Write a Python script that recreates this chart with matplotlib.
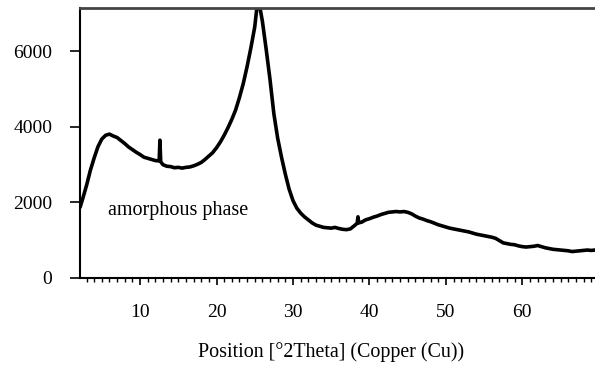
import matplotlib.pyplot as plt
from matplotlib.ticker import MultipleLocator

two_theta = [2.2, 2.5, 3.0, 3.5, 4.0, 4.5, 5.0, 5.5, 6.0, 6.5, 7.0, 7.5, 8.0, 8.5,
             9.0, 9.5, 10.0, 10.5, 11.0, 11.5, 12.0, 12.5, 12.6, 12.7, 13.0, 13.5,
             14.0, 14.5, 15.0, 15.5, 16.0, 16.5, 17.0, 17.5, 18.0, 18.5, 19.0, 19.5,
             20.0, 20.5, 21.0, 21.5, 22.0, 22.5, 23.0, 23.5, 24.0, 24.5, 25.0, 25.3,
             25.6, 26.0, 26.5, 27.0, 27.5, 28.0, 28.5, 29.0, 29.5, 30.0, 30.5, 31.0,
             31.5, 32.0, 32.5, 33.0, 33.5, 34.0, 34.5, 35.0, 35.5, 36.0, 36.5, 37.0,
             37.5, 38.0, 38.4, 38.5, 38.6, 39.0, 39.5, 40.0, 40.5, 41.0, 41.5, 42.0,
             42.5, 43.0, 43.5, 44.0, 44.5, 45.0, 45.5, 46.0, 46.5, 47.0, 47.5, 48.0,
             48.5, 49.0, 49.5, 50.0, 50.5, 51.0, 51.5, 52.0, 52.5, 53.0, 53.5, 54.0,
             54.5, 55.0, 55.5, 56.0, 56.5, 57.0, 57.5, 58.0, 58.5, 59.0, 59.5, 60.0,
             60.5, 61.0, 61.5, 62.0, 62.5, 63.0, 63.5, 64.0, 64.5, 65.0, 65.5, 66.0,
             66.5, 67.0, 67.5, 68.0, 68.5, 69.0, 69.5]
counts = [1900, 2100, 2450, 2850, 3180, 3480, 3680, 3780, 3810, 3760, 3720, 3640, 3560, 3470,
          3400, 3330, 3270, 3200, 3170, 3140, 3110, 3100, 3650, 3080, 3000, 2960,
          2950, 2920, 2930, 2910, 2930, 2940, 2970, 3010, 3060, 3140, 3230, 3320,
          3450, 3600, 3780, 3980, 4200, 4450, 4780, 5150, 5600, 6100, 6650, 7200,
          7250, 6800, 6050, 5250, 4350, 3700, 3200, 2750, 2350, 2050, 1850, 1720,
          1620, 1540, 1460, 1400, 1370, 1340, 1330, 1320, 1340, 1310, 1290, 1280,
          1300, 1380, 1450, 1620, 1460, 1480, 1540, 1570, 1610, 1640, 1680, 1710,
          1740, 1750, 1760, 1750, 1760, 1740, 1700, 1640, 1590, 1560, 1520, 1490,
          1450, 1410, 1380, 1350, 1320, 1300, 1280, 1260, 1240, 1220, 1190, 1160,
          1140, 1120, 1100, 1080, 1050, 990, 930, 910, 890, 880, 850, 830,
          820, 830, 840, 860, 830, 800, 780, 760, 750, 740, 730, 720,
          700, 710, 720, 730, 740, 730, 740]

plt.rcParams['font.family'] = ['Liberation Serif', 'DejaVu Serif']

fig = plt.figure(figsize=(5.95, 3.68), dpi=100)
ax = fig.add_axes([0.1345, 0.2446, 0.8655, 0.7336])
ax.plot(two_theta, counts, color='black', linewidth=2.6)

ax.set_xlim(2.15, 69.5)
ax.set_ylim(0, 7150)
ax.set_yticks([0, 2000, 4000, 6000])
ax.xaxis.set_major_locator(MultipleLocator(10))
ax.xaxis.set_minor_locator(MultipleLocator(1))

ax.spines['right'].set_visible(False)
ax.spines['top'].set_color('#444444')
ax.spines['top'].set_linewidth(2)
ax.spines['left'].set_linewidth(1.5)
ax.spines['bottom'].set_linewidth(1.5)

ax.tick_params(axis='y', direction='out', length=7, width=1.2, pad=13, labelsize=14)
ax.tick_params(axis='x', which='major', direction='out', length=5, width=1.2, pad=14, labelsize=14)
ax.tick_params(axis='x', which='minor', direction='out', length=3, width=1)

ax.text(5.8, 1800, 'amorphous phase', fontsize=14.5, va='center', ha='left')
ax.set_xlabel('Position [°2Theta] (Copper (Cu))', fontsize=14.4)
ax.xaxis.set_label_coords(0.487, -0.274)
ax.xaxis.label.set_verticalalignment('center')

fig.savefig('out.png', dpi=100)
